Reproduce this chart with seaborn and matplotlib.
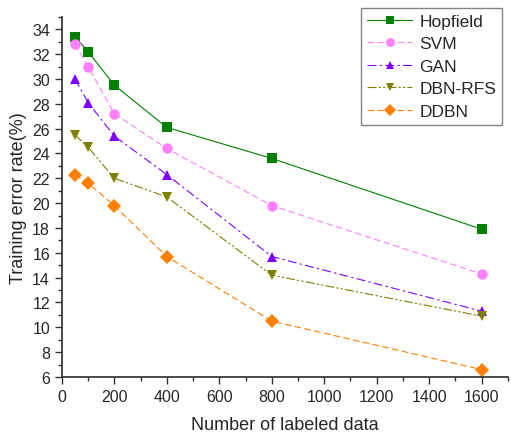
import matplotlib
matplotlib.use("Agg")
import matplotlib.pyplot as plt
import seaborn as sns
import pandas as pd
from matplotlib.ticker import MultipleLocator

x_vals = [50, 100, 200, 400, 800, 1600]
hopfield = [33.4, 32.2, 29.5, 26.1, 23.6, 17.9]
svm = [32.8, 31.0, 27.2, 24.4, 19.8, 14.3]
gan = [30.0, 28.1, 25.4, 22.3, 15.7, 11.3]
dbn_rfs = [25.5, 24.5, 22.0, 20.5, 14.2, 10.9]
ddbn = [22.3, 21.6, 19.8, 15.7, 10.5, 6.6]
methods = ["Hopfield", "SVM", "GAN", "DBN-RFS", "DDBN"]
series = [hopfield, svm, gan, dbn_rfs, ddbn]

rows = []
for m, vals in zip(methods, series):
    for xv, yv in zip(x_vals, vals):
        rows.append({"x": xv, "y": yv, "Method": m})
df = pd.DataFrame(rows)

sns.set_theme(style="ticks")
plt.rcParams['font.family'] = ['Liberation Sans', 'DejaVu Sans']

palette = {"Hopfield": "#008000", "SVM": "#FF80FF", "GAN": "#8000FF",
           "DBN-RFS": "#808000", "DDBN": "#FF8000"}
markers = {"Hopfield": "s", "SVM": "o", "GAN": "^", "DBN-RFS": "v", "DDBN": "D"}
dashes = {"Hopfield": "", "SVM": (6, 3), "GAN": (8, 3, 2, 3),
          "DBN-RFS": (8, 2, 2, 2, 2, 2), "DDBN": (6, 3)}

fig = plt.figure(figsize=(5.11, 4.35), dpi=100)
ax = fig.add_axes([0.121, 0.131, 0.873, 0.828])
sns.lineplot(data=df, x="x", y="y", hue="Method", style="Method",
             palette=palette, markers=markers, dashes=dashes,
             hue_order=methods, style_order=methods,
             linewidth=0.8, markersize=7.5, markeredgewidth=0, ax=ax)

ax.set_xlim(0, 1700)
ax.set_ylim(6, 35)
ax.xaxis.set_major_locator(MultipleLocator(200))
ax.xaxis.set_minor_locator(MultipleLocator(100))
ax.yaxis.set_major_locator(MultipleLocator(2))
ax.yaxis.set_minor_locator(MultipleLocator(1))
ax.tick_params(which="major", length=5, width=1, labelsize=11.5, direction="out", color="#333333")
ax.tick_params(which="minor", length=3, width=1, direction="out", color="#333333")
for s in ["top", "right"]:
    ax.spines[s].set_visible(False)
for s in ["left", "bottom"]:
    ax.spines[s].set_color("#333333")
ax.set_xlabel("Number of labeled data", fontsize=13, labelpad=9)
ax.set_ylabel("Training error rate(%)", fontsize=13, labelpad=4)

leg = ax.legend(loc="upper right", bbox_to_anchor=(0.995, 1.035), fontsize=12.5,
                frameon=True, fancybox=False, edgecolor="#666666",
                handlelength=2.6, borderpad=0.35, labelspacing=0.42, handletextpad=0.4,
                borderaxespad=0.2, markerscale=0.85)
leg.get_frame().set_linewidth(1.0)

fig.savefig("out.png", dpi=100)
